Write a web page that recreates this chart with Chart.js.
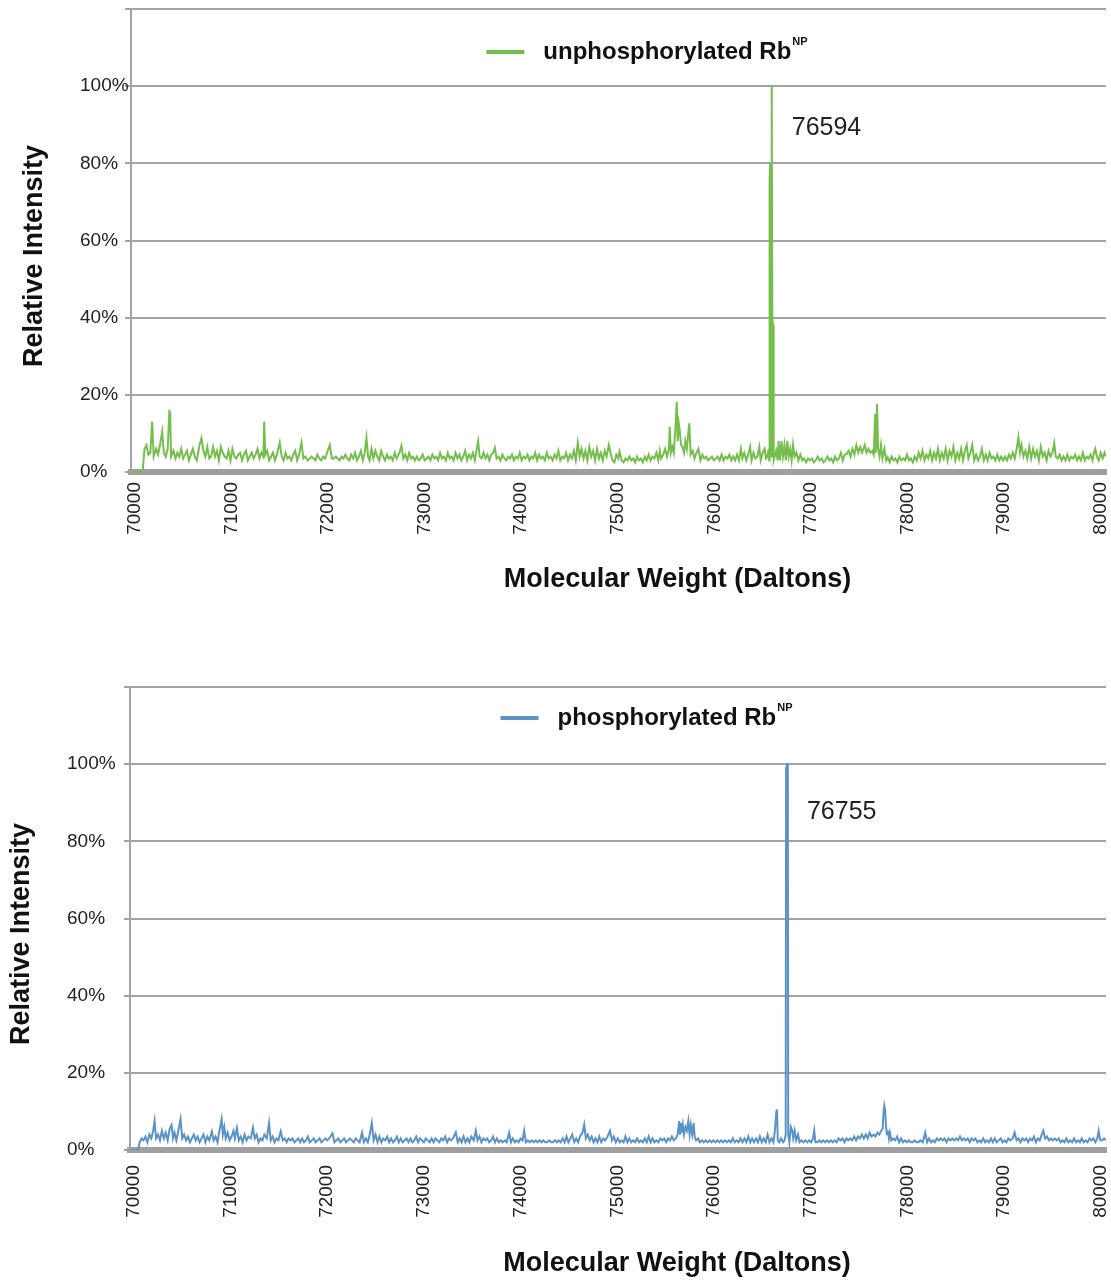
<!DOCTYPE html>
<html>
<head>
  <meta charset="utf-8" />
  <title>Rb NP deconvoluted mass spectra</title>
  <script src="https://cdn.jsdelivr.net/npm/chart.js"></script>
  <style>
    body { margin: 0; background: #fff; }
    canvas { position: absolute; left: 0; }
  </style>
</head>
<body>
  <canvas id="unphosChart" width="1111" height="640" style="top:0"></canvas>
  <canvas id="phosChart" width="1111" height="645" style="top:640px"></canvas>

  <script>
    // Axis ticks
    const massTicks = [70000, 71000, 72000, 73000, 74000, 75000, 76000, 77000, 78000, 79000, 80000];
    const percentTicks = [0, 20, 40, 60, 80, 100, 120];

    // Deconvoluted spectra: [mass (Da), relative intensity (%)]
    const unphosphorylated = [
      [69960,0],[70000,0],[70060,0],[70080,0],[70100,6],[70120,7],[70140,4.5],[70160,5],[70179,13],[70195,4],
      [70220,6],[70240,4.5],[70260,7],[70283,10.5],[70300,5],[70320,4],[70340,6],[70357,15.7],[70365,15.5],[70375,4],
      [70400,5.5],[70420,3.5],[70440,5],[70460,4],[70480,6],[70500,3.5],[70520,4.5],[70540,5.5],[70560,3],[70580,4.5],
      [70600,6],[70620,4],[70640,3],[70670,7],[70690,8.8],[70710,5.5],[70730,4],[70750,6.5],[70770,3.5],[70790,4],
      [70810,6.5],[70830,4],[70850,5.5],[70870,3],[70890,6.5],[70910,5],[70930,4],[70950,3.5],[70970,5.5],[70990,3],
      [71010,6],[71030,4],[71050,3.5],[71070,4.5],[71090,5],[71110,3],[71130,4.5],[71150,5.5],[71170,3],[71190,4],
      [71210,5],[71230,3.5],[71250,4.5],[71270,6],[71290,3.5],[71310,5],[71330,4],[71339,13],[71350,4.5],[71370,5.5],
      [71390,3],[71410,4],[71430,5],[71450,3],[71470,4.5],[71500,7.6],[71520,4],[71540,3],[71560,5],[71580,3.5],
      [71600,4],[71620,3],[71640,4.5],[71660,5.5],[71680,3],[71700,4.5],[71725,7.6],[71745,3.5],[71765,4],[71790,3],
      [71810,3.5],[71830,4],[71850,3.5],[71870,3],[71890,4.5],[71910,3.5],[71930,3],[71950,4],[71970,3.5],[71990,5],
      [72018,7],[72040,3.5],[72060,3.5],[72080,4],[72100,3.5],[72120,3],[72140,4],[72160,3.5],[72180,4.5],[72200,3.5],
      [72220,3],[72240,4.5],[72260,3.5],[72280,5],[72300,3],[72320,4],[72340,5.5],[72360,3],[72380,5],[72398,8.8],
      [72415,4],[72430,3],[72450,6],[72470,3.5],[72490,5.5],[72510,4],[72530,3],[72550,5.5],[72570,4],[72590,3],
      [72610,4.5],[72630,3.5],[72650,4],[72670,3],[72690,5],[72710,3.5],[72740,5],[72760,6.8],[72780,3.5],[72800,4.5],
      [72820,3],[72840,5],[72860,3.5],[72880,4],[72900,3],[72920,4],[72940,3],[72960,3.5],[72980,4.5],[73000,3],
      [73020,3.5],[73040,4],[73060,3],[73080,4.5],[73100,3.5],[73120,4],[73140,3],[73160,5],[73180,3.5],[73200,4],
      [73220,3],[73240,5],[73260,3.5],[73280,4],[73300,3],[73320,5],[73340,3.5],[73360,4.5],[73380,3],[73400,4],
      [73420,5.5],[73440,3],[73460,4.5],[73480,3.5],[73500,5],[73520,3],[73540,6],[73554,8],[73570,4],[73590,3.5],
      [73610,5],[73630,3.5],[73650,4.5],[73670,3],[73690,4.5],[73710,5],[73727,6.3],[73745,3.5],[73765,4],[73785,3],
      [73805,4.5],[73825,3.5],[73845,3],[73865,4],[73885,3.5],[73905,4.5],[73925,3],[73945,4],[73965,3.5],[73985,5],
      [74005,3],[74025,4],[74045,3.5],[74065,4.5],[74085,3],[74105,4],[74125,3.5],[74145,5],[74165,3],[74185,4.5],
      [74205,3.5],[74225,4],[74245,3],[74265,5],[74285,3.5],[74305,4],[74325,3],[74345,4.5],[74365,3.5],[74385,5.5],
      [74405,3],[74425,4],[74445,3.5],[74465,5],[74485,3],[74505,4.5],[74525,3.5],[74545,5.5],[74565,3],[74586,7.6],
      [74605,4],[74625,6],[74645,3.5],[74665,5.5],[74685,3],[74705,6.5],[74725,4],[74745,5.5],[74765,3],[74785,6],
      [74805,3.5],[74825,5],[74845,3],[74865,5.5],[74885,4],[74907,7],[74925,5],[74945,3],[74965,2.5],[74985,4.5],
      [75005,3.5],[75019,5.3],[75040,3],[75060,2.5],[75080,3.5],[75100,3],[75120,4],[75140,3],[75160,3.5],[75180,2.5],
      [75200,4],[75220,3],[75240,3.5],[75260,2.5],[75280,4],[75300,3],[75320,4.5],[75340,3],[75360,4],[75380,3.5],
      [75400,5],[75420,3],[75435,5.5],[75450,3.5],[75470,4.5],[75490,6],[75510,4],[75530,6],[75538,11.7],[75550,5],
      [75565,6.5],[75580,5],[75598,12],[75611,18.2],[75620,8],[75632,12.5],[75642,10.7],[75655,7],[75670,6.5],[75686,5],
      [75700,8],[75715,6],[75740,12.6],[75755,4.5],[75775,5.5],[75795,3.5],[75815,5],[75835,6],[75855,3],[75875,4.5],
      [75895,3.5],[75915,4],[75935,3],[75955,3.5],[75975,4],[75995,3],[76015,3.5],[76035,4],[76055,3],[76075,4.5],
      [76095,3],[76115,4],[76135,3.5],[76155,4.5],[76175,3],[76195,4],[76215,3],[76235,4.5],[76255,3],[76275,6],
      [76290,3.5],[76310,5],[76330,3],[76350,4.5],[76370,6.5],[76385,3],[76405,5],[76425,3.5],[76445,4],[76465,6.5],
      [76480,3],[76500,5],[76520,6],[76535,3.5],[76550,4],[76562,6],[76568,3],[76572,76],[76578,80],[76584,5],
      [76588,4],[76594,100],[76600,40],[76608,38],[76614,3],[76625,4],[76640,5.5],[76655,3],[76665,8],[76680,3],
      [76695,8],[76710,4],[76725,7],[76740,3],[76755,8],[76770,4],[76785,6],[76800,3],[76815,7],[76830,4],
      [76850,5],[76870,3],
      [76890,4.5],[76910,3],[76930,3.5],[76950,2.5],[76970,3.5],[76990,3],[77010,3.5],[77030,2.5],[77050,3],[77070,4],
      [77090,3],[77110,3.5],[77130,2.5],[77150,3],[77170,4],[77190,3],[77210,3.5],[77230,2.5],[77250,4],[77270,3],
      [77290,3.5],[77310,5],[77330,3],[77350,4.5],[77371,4.7],[77390,5.5],[77410,4],[77430,6],[77450,4.5],[77470,7],
      [77490,5],[77510,6.5],[77530,5],[77557,7],[77575,5],[77595,6],[77615,5],[77635,5.5],[77650,4.5],[77665,15],
      [77672,5],[77685,17.7],[77695,6],[77710,4],[77725,7],[77740,3.5],[77760,6],[77780,3],[77795,3.8],[77815,2.5],
      [77835,4],[77855,3],[77875,3.5],[77895,2.5],[77915,4],[77935,3],[77955,3.5],[77975,3],[77995,4.5],[78015,3],
      [78035,3.5],[78055,2.5],[78075,4],[78095,3],[78115,5],[78135,3.5],[78155,5.5],[78175,3],[78195,4.5],[78215,3.5],
      [78235,5.5],[78255,3],[78275,5],[78295,3.5],[78315,6],[78335,3],[78355,5],[78375,3.5],[78395,6],[78415,3],
      [78435,5.5],[78455,4],[78475,6.5],[78495,3],[78515,5],[78535,3.5],[78555,6],[78575,3],[78595,5.5],[78613,7],
      [78630,3.5],[78650,5],[78670,7],[78690,3],[78710,4.5],[78730,3],[78750,4],[78770,6],[78790,3],[78810,4.5],
      [78830,3],[78850,5],[78870,3.5],[78890,4],[78910,3],[78930,4.5],[78950,3],[78970,4],[78990,3],[79010,4],
      [79030,3],[79050,4.5],[79070,3.5],[79090,5],[79110,3.5],[79130,6],[79148,9],[79165,5],[79180,7],[79200,4],
      [79220,5.5],[79240,3.5],[79260,6.5],[79280,3.5],[79300,6],[79320,4],[79340,5.5],[79360,3],[79380,6.5],[79400,4],
      [79420,5],[79440,3],[79460,5.5],[79480,4],[79500,5],[79519,7.5],[79535,4],[79555,3.5],[79575,4.5],[79595,3],
      [79615,4],[79635,3],[79655,4.5],[79675,3],[79695,4],[79715,3.5],[79735,4.5],[79755,3],[79775,4],[79795,3],
      [79815,5],[79835,3],[79855,4],[79875,3.5],[79895,4.5],[79915,3],[79930,5],[79944,6],[79960,4],[79980,3],
      [80000,5],[80020,3.5],[80040,5],[80052,4]
    ];

    const phosphorylated = [
      [69960,0],[70000,0],[70045,0],[70060,2],[70080,3],[70100,2.5],[70120,3.5],[70140,2],[70160,4],[70180,3],
      [70200,5],[70214,7.5],[70230,3],[70250,4],[70270,2.5],[70290,5],[70310,3],[70330,4.5],[70350,2.5],[70370,5.5],
      [70390,6.5],[70405,3],[70420,4.5],[70440,2.5],[70460,5],[70483,8],[70500,3],[70520,4],[70540,2.5],[70560,3.5],
      [70580,2],[70600,3],[70620,4],[70640,2.5],[70660,3.5],[70680,2],[70700,3],[70720,4],[70740,2],[70760,3.5],
      [70780,2.5],[70807,4.8],[70825,2.5],[70845,3.5],[70865,2],[70885,5],[70908,8],[70920,4],[70935,6],[70950,3],
      [70970,4.5],[70990,2.5],[71010,3.5],[71030,5],[71045,3],[71066,5.7],[71085,2.5],[71105,3.5],[71125,2],[71145,4],
      [71165,2.5],[71185,3.5],[71210,3],[71232,5.8],[71250,3],[71270,4],[71290,2],[71310,3],[71330,2.5],[71350,4],
      [71375,3],[71398,7],[71415,2.5],[71435,3.5],[71455,2],[71475,3],[71495,2.5],[71519,4.8],[71540,2.5],[71560,3],
      [71580,2],[71600,3],[71620,2.5],[71640,3],[71660,2],[71680,2.5],[71700,3],[71720,2],[71740,3],[71760,2],
      [71780,2.5],[71800,3.5],[71820,2],[71840,2.5],[71860,3],[71880,2],[71900,2.5],[71920,3],[71940,2],[71960,2.5],
      [71980,3],[72000,2.5],[72020,3],[72054,4.3],[72075,2],[72095,2.5],[72115,3],[72135,2],[72155,2.5],[72175,3],
      [72195,2],[72215,2.5],[72235,3],[72255,2.5],[72275,2],[72295,3],[72315,2.5],[72335,2],[72360,4.5],[72380,2],
      [72400,3],[72420,2],[72440,4],[72461,7],[72480,2.5],[72500,4],[72520,2],[72540,3.5],[72560,2],[72580,3],
      [72600,2.5],[72620,3.5],[72640,2],[72660,3],[72680,2],[72700,2.5],[72720,3.5],[72740,2],[72760,3],[72780,2],
      [72800,2.5],[72820,3],[72840,2],[72860,3],[72880,2],[72900,2.5],[72920,3.5],[72940,2],[72960,3],[72980,2.5],
      [73000,2],[73020,3],[73040,2.5],[73060,2],[73080,3],[73100,2],[73120,3],[73140,2.5],[73160,2],[73180,3],
      [73200,2.5],[73220,3.5],[73240,2],[73260,3],[73280,2.5],[73300,3],[73330,4.6],[73350,2],[73370,3],[73390,2],
      [73410,3.5],[73430,2],[73450,3],[73470,2],[73490,3.5],[73515,2.5],[73537,5],[73555,2.5],[73575,3.5],[73595,2],
      [73615,3],[73635,2.5],[73655,3],[73675,2],[73695,2.5],[73715,3.5],[73735,2],[73755,3],[73775,2],[73795,2.5],
      [73815,2],[73835,2.5],[73855,2],[73882,4.5],[73900,2],[73920,3],[73940,2],[73960,2.5],[73980,2],[74000,3],
      [74020,2.5],[74037,5],[74055,2],[74075,2.5],[74095,2],[74115,2.5],[74135,2],[74155,2.5],[74175,2],[74195,2.5],
      [74215,2],[74235,2.5],[74255,2],[74275,2],[74295,2.5],[74315,2],[74335,2],[74355,2.5],[74375,2],[74395,2.5],
      [74415,2],[74435,3],[74455,2],[74475,3.5],[74495,2],[74515,3],[74534,4],[74555,2],[74575,3],[74595,2],
      [74615,3.5],[74640,4.5],[74658,6.6],[74675,3],[74695,4],[74715,2.5],[74735,3.5],[74755,2],[74775,3],[74795,2],
      [74814,3.5],[74835,2],[74855,3],[74875,2.5],[74900,3.5],[74925,5],[74945,2.5],[74965,3.5],[74985,2],[75005,3],
      [75025,2],[75045,2.5],[75065,2],[75085,3.5],[75105,2],[75125,3],[75145,2],[75165,2.5],[75185,2],[75205,3],
      [75225,2],[75245,2.5],[75265,2],[75285,3],[75305,2],[75325,3.5],[75345,2],[75365,3],[75385,2],[75405,2.5],
      [75425,2],[75445,3],[75465,2.5],[75485,3],[75505,2],[75525,3],[75545,2.5],[75565,3.5],[75585,2.5],[75605,3],
      [75625,4],[75640,7.5],[75650,4],[75660,7],[75668,4.5],[75678,6.5],[75690,4],[75705,6],[75720,5],[75735,7.5],
      [75748,4],[75760,6.5],[75775,4],[75790,7],[75800,3.5],[75815,2.5],[75835,3],[75855,2],[75875,2.5],[75895,2],
      [75915,2.5],[75935,2],[75955,2.5],[75975,2],[75995,2.5],[76015,2],[76035,2.5],[76055,2],[76075,2.5],[76095,2],
      [76115,2.5],[76135,2],[76155,2.5],[76175,2],[76195,3],[76215,2],[76235,2.5],[76255,2],[76275,3],[76295,2],
      [76315,3],[76335,2],[76355,3.5],[76375,2],[76395,3],[76415,2],[76435,3],[76455,2],[76475,3.5],[76495,2],
      [76515,3],[76535,2],[76555,4],[76575,2],[76595,3],[76615,2],[76630,5],[76645,10],[76652,10.5],[76660,2.5],
      [76675,2],[76695,3],[76715,2],[76730,2.5],[76742,4],[76746,99],[76750,100],[76755,100],[76760,100],[76764,99],
      [76768,4],[76780,2],
      [76795,6],[76810,5],[76820,3],[76835,5],[76850,2.5],[76870,4],[76885,2],[76905,2.5],[76925,2],[76945,2.5],
      [76965,2],[76985,2.5],[77005,2],[77025,3],[77037,5],[77050,2],[77070,2],[77090,2.5],[77110,2],[77130,2.5],
      [77150,2],[77170,2.5],[77190,2],[77210,2.5],[77230,2],[77250,2.5],[77270,2],[77290,3],[77310,2.5],[77330,3],
      [77350,2],[77370,3],[77390,2.5],[77410,3],[77430,2.5],[77450,3.5],[77470,2.5],[77490,3.5],[77510,3],[77530,4],
      [77550,3],[77570,4],[77590,3],[77610,4.5],[77630,3.5],[77650,4],[77670,3.5],[77690,4.5],[77710,4],[77730,5],
      [77745,5.5],[77755,10],[77762,11.5],[77770,10.5],[77780,6],[77790,4],[77800,5],[77810,3],[77820,4.5],[77835,2.5],
      [77855,3],[77875,2.5],[77895,3.5],[77915,2],[77935,3],[77955,2],[77975,2.5],[77995,2],[78015,2.5],[78035,2],
      [78055,2],[78075,2.5],[78095,2],[78115,2],[78135,2.5],[78160,2],[78185,4.5],[78205,2],[78225,3],[78245,2],
      [78265,2.5],[78285,2],[78305,3],[78325,2.5],[78345,3],[78365,2.5],[78385,3],[78405,2],[78425,3],[78445,2.5],
      [78465,3],[78485,2.5],[78505,3],[78525,2.5],[78545,3.5],[78565,2.5],[78585,3],[78605,2.5],[78625,3],[78645,2],
      [78665,3],[78685,2.5],[78705,3],[78725,2],[78745,2.5],[78765,2],[78785,3],[78805,2],[78825,2.5],[78845,2],
      [78865,3],[78885,2],[78905,3],[78925,2],[78945,2.5],[78965,3],[78985,2],[79005,2.5],[79025,2],[79045,3],
      [79065,2.5],[79090,3],[79110,4.5],[79130,2.5],[79150,3],[79170,2],[79190,3],[79210,2.5],[79230,3],[79250,2],
      [79270,3],[79290,2.5],[79310,3.5],[79330,2],[79350,3],[79370,2.5],[79390,4],[79407,5],[79425,3],[79445,3.5],
      [79465,2.5],[79485,3],[79505,2.5],[79525,3],[79545,2.5],[79565,3],[79585,2],[79605,2.5],[79625,2],[79645,3],
      [79665,2],[79685,2.5],[79705,2],[79725,3],[79745,2],[79765,2.5],[79785,2],[79805,3],[79825,2],[79845,2.5],
      [79865,2],[79885,3],[79905,2.5],[79925,3],[79945,2],[79965,3],[79979,5],[79995,2.5],[80015,2.5],[80035,3],
      [80055,2.5]
    ];

    // Labelled peak masses
    const unphosPeak = 76594;
    const phosPeak = 76755;

    const FONT = '"Liberation Sans", Arial, Helvetica, sans-serif';
    const GRID = '#a3a3a3';
    const TEXT = '#222';

    // axis titles, the in-plot legend and the peak label
    const decorPlugin = {
      id: 'decor',
      afterDraw(chart, args, opts) {
        const {ctx, chartArea: area, scales: {x, y}} = chart;
        const midX = (area.left + area.right) / 2;

        ctx.save();
        ctx.fillStyle = '#111';
        ctx.textBaseline = 'middle';

        // y title, rotated
        ctx.save();
        ctx.font = 'bold 27px ' + FONT;
        ctx.textAlign = 'center';
        ctx.translate(opts.yTitleX, opts.yTitleY);
        ctx.rotate(-Math.PI / 2);
        ctx.fillText('Relative Intensity', 0, 0);
        ctx.restore();

        // x title
        ctx.font = 'bold 27px ' + FONT;
        ctx.textAlign = 'center';
        ctx.fillText('Molecular Weight (Daltons)', midX + 59, opts.xTitleY);

        // legend: line sample, label and NP superscript
        ctx.font = 'bold 24px ' + FONT;
        const textW = ctx.measureText(opts.legendText).width;
        ctx.font = 'bold 11px ' + FONT;
        const supW = ctx.measureText('NP').width;
        const totalW = 38 + 19 + textW + supW;
        const lx = midX + 28 - totalW / 2;
        ctx.strokeStyle = opts.color;
        ctx.lineWidth = 4;
        ctx.beginPath();
        ctx.moveTo(lx, opts.legendY);
        ctx.lineTo(lx + 38, opts.legendY);
        ctx.stroke();
        ctx.textAlign = 'left';
        ctx.font = 'bold 24px ' + FONT;
        ctx.fillText(opts.legendText, lx + 57, opts.legendY);
        ctx.font = 'bold 11px ' + FONT;
        ctx.fillText('NP', lx + 57 + textW + 1, opts.legendY - 10);

        // peak mass next to the main peak
        ctx.font = '25px ' + FONT;
        ctx.fillStyle = TEXT;
        ctx.fillText(String(opts.peak), x.getPixelForValue(opts.peak) + 20, y.getPixelForValue(opts.peakLabelAt));
        ctx.restore();
      }
    };

    function makeSpectrum(canvasId, series, color, decor, box) {
      return new Chart(document.getElementById(canvasId), {
        type: 'line',
        data: {
          datasets: [{
            label: decor.legendText + 'NP',
            data: series.map(([m, v]) => ({x: m, y: v})),
            borderColor: color,
            backgroundColor: color,
            borderWidth: 2,
            pointRadius: 0,
            tension: 0,
            fill: false
          }]
        },
        options: {
          responsive: false,
          animation: false,
          devicePixelRatio: 1,
          layout: {
            padding: {left: box.left, top: box.top, right: box.right, bottom: 0}
          },
          plugins: {
            legend: {display: false},
            tooltip: {enabled: false},
            decor: Object.assign({color}, decor)
          },
          scales: {
            x: {
              type: 'linear',
              min: 69960,
              max: 80055,
              afterBuildTicks: s => { s.ticks = massTicks.map(v => ({value: v})); },
              afterFit: s => { s.height = box.xHeight; s.paddingLeft = 0; s.paddingRight = 0; },
              grid: {display: false, drawTicks: false},
              border: {display: true, color: '#9f9f9f', width: 6},
              ticks: {
                autoSkip: false,
                minRotation: 90,
                maxRotation: 90,
                padding: box.tickPad,
                color: TEXT,
                font: {family: FONT, size: 19},
                callback: v => String(v)
              }
            },
            y: {
              min: 0,
              max: 120,
              afterBuildTicks: s => { s.ticks = percentTicks.map(v => ({value: v})); },
              afterFit: s => { s.width = box.yWidth; s.paddingTop = 0; s.paddingBottom = 0; },
              grid: {color: GRID, lineWidth: 2, tickLength: 6, drawTicks: true},
              border: {display: true, color: GRID, width: 2},
              ticks: {
                crossAlign: 'far',
                color: TEXT,
                font: {family: FONT, size: 19},
                callback: v => (v === 120 ? '' : v + '%')
              }
            }
          }
        },
        plugins: [decorPlugin]
      });
    }

    makeSpectrum('unphosChart', unphosphorylated, '#74bf4c',
      {legendText: 'unphosphorylated Rb', legendY: 52, peak: unphosPeak, peakLabelAt: 89,
       yTitleX: 35, yTitleY: 256, xTitleY: 580},
      {left: 80, top: 9, right: 5, yWidth: 51, xHeight: 168, tickPad: 10});

    makeSpectrum('phosChart', phosphorylated, '#5b93c9',
      {legendText: 'phosphorylated Rb', legendY: 78, peak: phosPeak, peakLabelAt: 87.5,
       yTitleX: 22, yTitleY: 294, xTitleY: 624},
      {left: 67, top: 47, right: 5, yWidth: 63, xHeight: 135, tickPad: 15});
  </script>
</body>
</html>
